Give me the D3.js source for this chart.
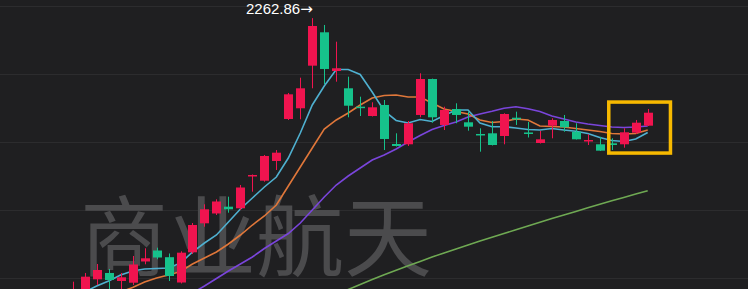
<!DOCTYPE html>
<html>
<head>
<meta charset="utf-8">
<script src="https://cdn.jsdelivr.net/npm/d3@7"></script>
<style>
  html, body { margin: 0; padding: 0; background: #1f1f21; }
  svg { display: block; }
</style>
</head>
<body>
<svg id="chart" width="748" height="289"></svg>
<script>
// daily candles, oldest first (prices)
var opens = [1433.8,1445.6,1494.7,1513.3,1489.7,1484.7,1547.1,1579.4,1559.7,1485.3,
  1574.1,1659.4,1688.3,1708.3,1703.6,1797.7,1784.7,1842.7,1966.2,1997.7,
  2123.0,2221.2,2107.4,2056.5,2002.4,1975.0,2007.4,1892.7,1891.8,1978.0,
  2083.8,1948.6,1995.6,1956.5,1922.1,1924.1,1916.2,1970.0,1926.5,1895.6,
  1946.5,1960.3,1928.8,1901.5,1891.8,1894.7,1891.8,1925.9,1946.5];
var closes = [1460.3,1502.4,1522.1,1492.7,1500.6,1538.3,1556.5,1558.8,1504.4,1573.0,
  1654.4,1700.6,1723.6,1700.6,1764.7,1801.5,1857.4,1867.1,2038.8,2056.5,
  2239.7,2113.3,2115.3,2005.3,1999.4,2000.6,1907.4,1886.8,1953.6,2083.8,
  1971.2,1992.7,1978.0,1943.6,1919.1,1889.7,1980.9,1965.3,1922.1,1906.5,
  1963.3,1941.8,1906.5,1904.4,1873.0,1889.7,1927.1,1955.3,1984.7];
var highs = [1487.7,1513.3,1539.7,1525.0,1513.3,1563.3,1585.9,1587.7,1570.6,1577.1,
  1660.3,1715.3,1730.0,1737.7,1772.1,1803.0,1860.3,1875.0,2042.7,2087.7,
  2262.86,2242.7,2193.6,2090.6,2031.8,2015.3,2022.1,1924.1,1960.3,2100.6,
  2085.0,2002.4,2012.4,1987.7,1938.8,1960.3,1983.0,1987.7,1957.4,1930.9,
  1968.3,1978.0,1953.6,1921.2,1914.1,1909.4,1938.8,1963.3,1995.6];
var lows = [1425.0,1436.8,1478.0,1466.2,1463.3,1478.0,1538.8,1553.6,1489.7,1482.4,
  1569.1,1649.4,1683.8,1690.6,1698.5,1752.4,1781.8,1816.2,1963.3,1965.3,
  2056.5,2069.1,2075.9,1971.2,1975.0,1973.6,1875.0,1885.3,1886.8,1971.2,
  1955.3,1933.8,1953.6,1931.8,1870.0,1888.3,1891.8,1948.6,1911.8,1894.1,
  1909.4,1928.8,1905.9,1889.7,1872.1,1875.0,1881.8,1922.1,1945.6];

// moving averages (null = before the visible window)
var ma5 = [1433.8,1457.4,1475.0,1489.7,1507.4,1519.1,1525.0,1526.5,1528.0,1542.7,
  1575.0,1601.5,1625.0,1663.3,1701.5,1733.8,1766.2,1795.6,1851.5,1925.0,
  2007.4,2063.3,2111.8,2111.8,2097.1,2045.6,1989.7,1961.8,1954.4,1964.7,
  1958.8,1976.5,1992.7,1992.7,1954.4,1943.6,1943.6,1939.7,1935.3,1933.8,
  1938.3,1933.8,1930.3,1923.6,1911.8,1903.0,1900.0,1907.4,1926.5];
var ma10 = [null,null,1428.0,1442.7,1457.4,1470.6,1486.8,1498.6,1507.4,1517.7,
  1539.7,1557.4,1575.0,1598.5,1625.0,1654.4,1680.9,1713.3,1769.1,1825.0,
  1880.9,1936.8,1963.3,1983.8,2007.4,2028.0,2035.3,2036.8,2030.9,2030.9,
  2013.3,1995.6,1988.3,1980.9,1963.3,1955.9,1958.8,1966.2,1963.3,1945.6,
  1944.1,1942.7,1938.3,1933.8,1929.4,1923.6,1922.1,1923.6,1933.8];
var ma20 = [null,null,null,null,null,null,null,null,1410.3,1433.8,
  1454.4,1475.0,1497.1,1519.1,1539.7,1560.3,1585.3,1607.4,1629.4,1660.3,
  1698.5,1736.8,1772.1,1798.5,1822.1,1845.6,1860.3,1878.0,1898.6,1917.7,
  1935.3,1947.1,1957.4,1972.1,1980.9,1988.8,1997.7,2002.4,1996.5,1988.3,
  1975.0,1966.2,1957.4,1951.5,1947.1,1942.7,1941.2,1942.7,1945.6];
var ma60 = [null,null,null,null,null,null,null,null,null,null,
  null,null,null,null,null,null,null,null,null,null,
  null,null,1450.0,1464.7,1479.4,1493.8,1508.0,1521.5,1534.7,1547.4,
  1560.0,1572.4,1584.1,1595.6,1607.1,1618.3,1629.4,1640.6,1651.5,1662.4,
  1673.3,1683.8,1694.4,1705.0,1715.6,1725.6,1735.6,1745.6,1755.3];

var gridTicks = [1500, 1700, 1900, 2100, 2300];
var maxLabel = '2262.86';
var watermark = '商业航天';
// highlighted last days: index range and price range
var boxRange = [44.75, 49.9];
var boxPrices = [1866, 2016];

var W = 748, H = 289;
var svg = d3.select('#chart');

var x = d3.scaleLinear().domain([0, opens.length - 1]).range([72.7, 647.7]);
var y = d3.scaleLinear().domain([1500, 2300]).range([277.5, 5.5]);

var up = '#f0144f', down = '#16c28b';

svg.append('rect').attr('width', W).attr('height', H).attr('fill', '#1f1f21');

// grid
svg.append('g').selectAll('line').data(gridTicks).enter().append('line')
  .attr('x1', 0).attr('x2', W)
  .attr('y1', function(d) { return Math.round(y(d)) + 0.5; })
  .attr('y2', function(d) { return Math.round(y(d)) + 0.5; })
  .attr('stroke', '#2c2c2e').attr('stroke-width', 1);

// watermark behind everything
svg.append('text').text(watermark)
  .attr('x', 80).attr('y', 269)
  .attr('font-family', '"Noto Sans CJK SC", sans-serif')
  .attr('font-size', 88)
  .attr('fill', '#4b4b4d');

// moving averages
var mas = [
  { v: ma60, c: '#6fa953' },
  { v: ma20, c: '#7a45db' },
  { v: ma10, c: '#e0773a' },
  { v: ma5, c: '#4fb0d0' }
];
var line = d3.line()
  .defined(function(d) { return d != null; })
  .x(function(d, i) { return x(i); })
  .y(function(d) { return y(d); });
svg.append('g').selectAll('path').data(mas).enter().append('path')
  .attr('d', function(m) { return line(m.v); })
  .attr('fill', 'none')
  .attr('stroke', function(m) { return m.c; })
  .attr('stroke-width', 1.6);

// candles
var idx = d3.range(opens.length);
var candle = svg.append('g').selectAll('g').data(idx).enter().append('g');
function col(i) { return closes[i] >= opens[i] ? up : down; }
candle.append('line')
  .attr('x1', function(i) { return Math.round(x(i)) + 0.5; })
  .attr('x2', function(i) { return Math.round(x(i)) + 0.5; })
  .attr('y1', function(i) { return y(highs[i]); })
  .attr('y2', function(i) { return y(lows[i]); })
  .attr('stroke', col).attr('stroke-width', 1);
candle.append('rect')
  .attr('x', function(i) { return Math.round(x(i)) - 4; })
  .attr('width', 9)
  .attr('y', function(i) { return y(Math.max(opens[i], closes[i])); })
  .attr('height', function(i) { return Math.max(1.5, Math.abs(y(opens[i]) - y(closes[i]))); })
  .attr('fill', col);

// max price label with arrow pointing at the high
var lbl = svg.append('text')
  .attr('x', x(20) + 0.5).attr('y', y(highs[20]) - 4)
  .attr('text-anchor', 'end')
  .attr('font-family', 'Liberation Sans, Arial, sans-serif')
  .attr('font-size', 15)
  .attr('fill', '#ffffff');
lbl.append('tspan').text(maxLabel);
lbl.append('tspan').text('→').attr('font-family', 'DejaVu Sans, sans-serif');

// yellow highlight box
svg.append('rect')
  .attr('x', x(boxRange[0])).attr('width', x(boxRange[1]) - x(boxRange[0]))
  .attr('y', y(boxPrices[1])).attr('height', y(boxPrices[0]) - y(boxPrices[1]))
  .attr('fill', 'none')
  .attr('stroke', '#f7b900').attr('stroke-width', 3.5);
</script>
</body>
</html>
